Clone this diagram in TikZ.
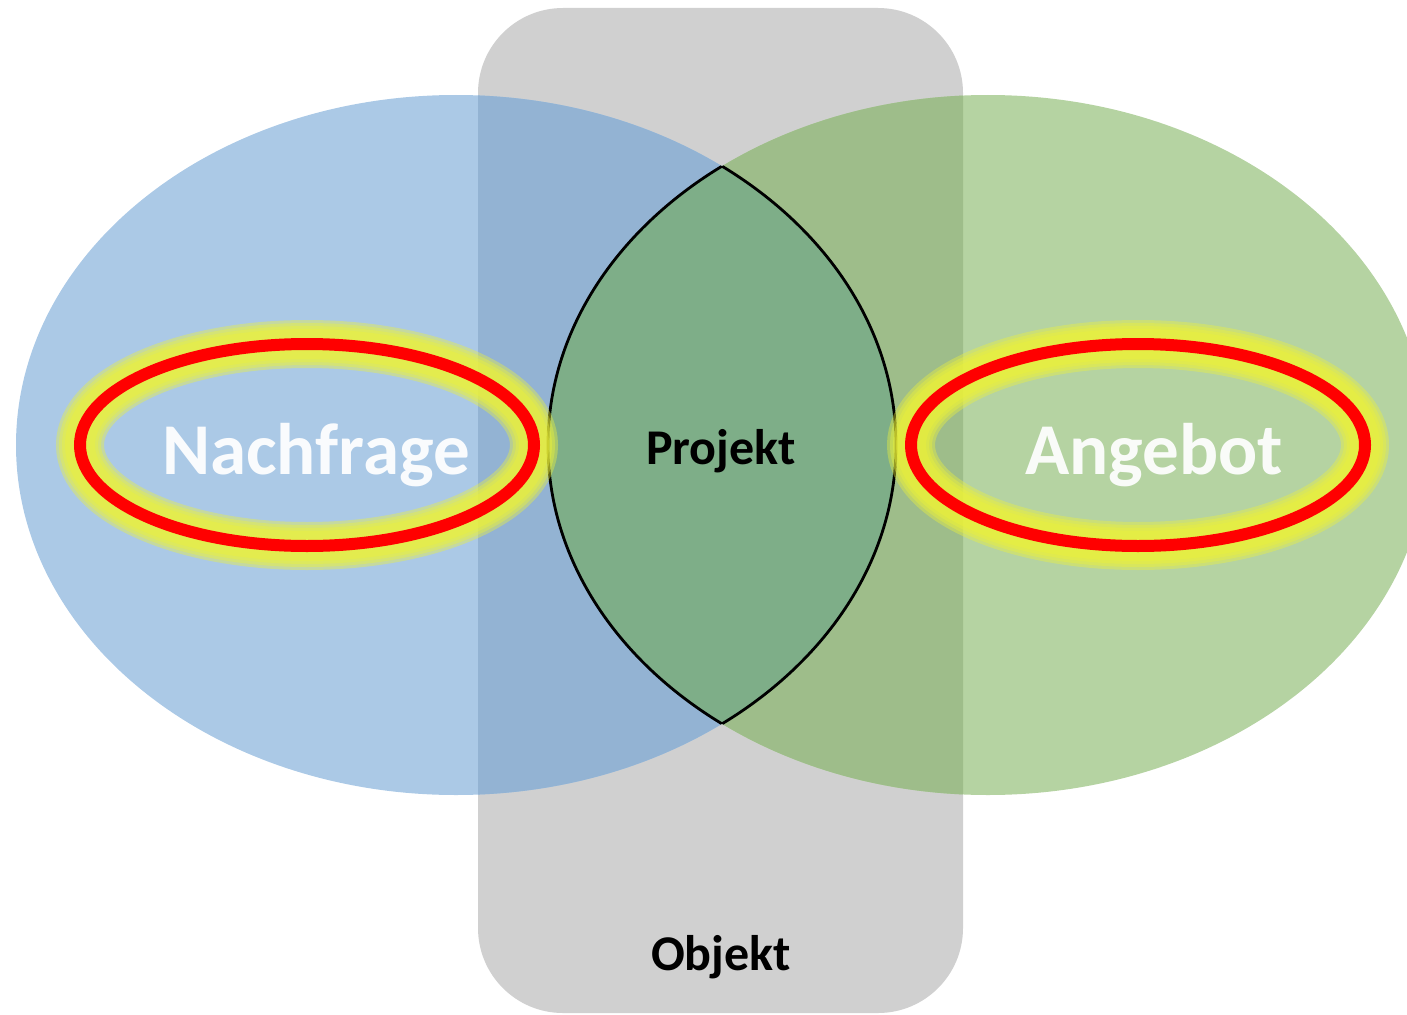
\documentclass[tikz,border=0pt]{standalone}
\usepackage{fontspec}
\setmainfont{Carlito}
\definecolor{grayband}{HTML}{D0D0D0}
\definecolor{blueell}{HTML}{ABC9E6}
\definecolor{greenell}{HTML}{B5D3A2}
\definecolor{bluegray}{HTML}{93B3D3}
\definecolor{greengray}{HTML}{9EBD8A}
\definecolor{lensgreen}{HTML}{7EAE88}
\definecolor{glowyellow}{HTML}{ECF238}
\tikzset{
  glowring/.style={draw=glowyellow, line width=#1, opacity=0.4},
  redring/.style={draw=red, line width=12pt},
  bigword/.style={text=white, text opacity=0.93, font=\fontsize{73}{80}\selectfont\bfseries, inner sep=0pt, anchor=base},
  smallword/.style={text=black, font=\fontsize{50}{56}\selectfont\bfseries, inner sep=0pt, anchor=base}
}
\begin{document}
\begin{tikzpicture}[x=1pt,y=-1pt]
\useasboundingbox (0,0) rectangle (1407,1014);
\clip (0,0) rectangle (1407,1014);
% gray band
\fill[grayband, rounded corners=85pt] (478,8) rectangle (963,1013);
% ellipses
\fill[blueell] (456,445) ellipse [x radius=440, y radius=350];
\fill[greenell] (988,445) ellipse [x radius=440, y radius=350];
% overlaps with gray band
\begin{scope}
  \clip (478,8) rectangle (963,1013);
  \fill[bluegray] (456,445) ellipse [x radius=440, y radius=350];
  \fill[greengray] (988,445) ellipse [x radius=440, y radius=350];
\end{scope}
% lens
\begin{scope}
  \clip (456,445) ellipse [x radius=440, y radius=350];
  \fill[lensgreen] (988,445) ellipse [x radius=440, y radius=350];
  \draw[black, line width=2.8pt] (988,445) ellipse [x radius=440, y radius=350];
\end{scope}
\begin{scope}
  \clip (988,445) ellipse [x radius=440, y radius=350];
  \draw[black, line width=2.8pt] (456,445) ellipse [x radius=440, y radius=350];
\end{scope}
% glowing rings
\foreach \cx in {307,1138}{
  \foreach \w in {48,42,36,30}{
    \draw[glowring=\w pt] (\cx,445) ellipse [x radius=227, y radius=101];
  }
  \draw[redring] (\cx,445) ellipse [x radius=227, y radius=101];
}
% labels
\node[bigword] (nachfrage) at (316,474) {Nachfrage};
\node[bigword] (angebot) at (1154,474) {Angebot};
\node[smallword] (projekt) at (721,464) {Projekt};
\node[smallword] (objekt) at (721,970) {Objekt};
\end{tikzpicture}
\end{document}
